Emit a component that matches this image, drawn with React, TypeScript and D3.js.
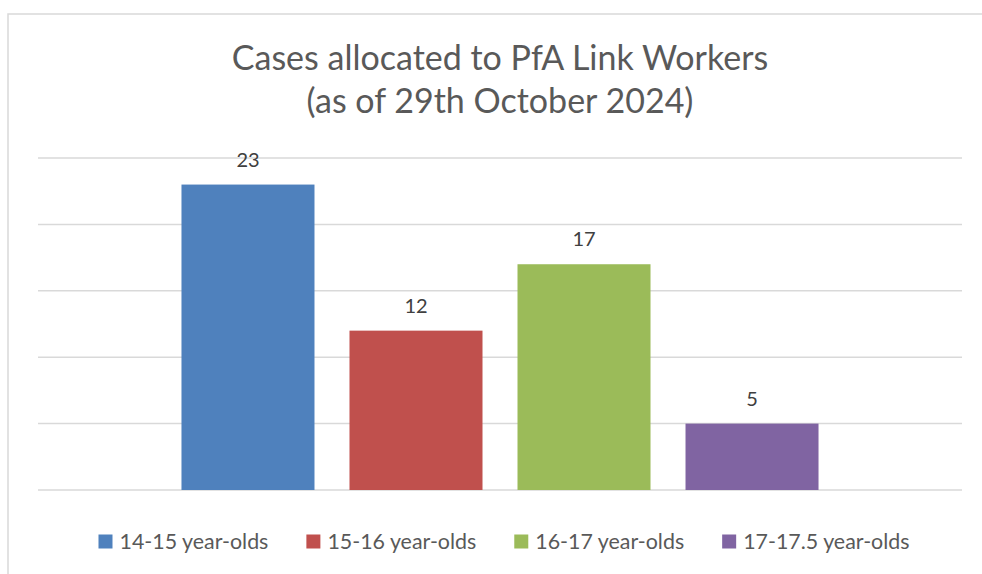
import React, { useEffect, useRef } from "react";
import * as d3 from "d3";

const seriesNames = ["14-15 year-olds", "15-16 year-olds", "16-17 year-olds", "17-17.5 year-olds"];
const seriesValues = [23, 12, 17, 5];
const seriesColors = ["#4f81bd", "#c0504d", "#9bbb59", "#8064a2"];
const yTicks = [0, 5, 10, 15, 20, 25];
const titleLines = ["Cases allocated to PfA Link Workers", "(as of 29th October 2024)"];

const FONT = "Lato, 'Open Sans', sans-serif";

export default function App() {
  const ref = useRef<SVGSVGElement | null>(null);
  useEffect(() => {
    const svg = d3.select(ref.current);
    svg.selectAll("*").remove();
    const W = 982, H = 574;
    // chart border
    svg.append("rect").attr("x", 8).attr("y", 14).attr("width", W).attr("height", H)
      .attr("fill", "#fff").attr("stroke", "#d9d9d9").attr("stroke-width", 1.5);

    // title
    svg.append("text").attr("x", 500).attr("y", 70).attr("text-anchor", "middle")
      .attr("font-family", FONT).attr("font-size", 34).attr("fill", "#595959").text(titleLines[0]);
    svg.append("text").attr("x", 500).attr("y", 113).attr("text-anchor", "middle")
      .attr("font-family", FONT).attr("font-size", 34).attr("fill", "#595959").text(titleLines[1]);

    const y = d3.scaleLinear().domain([0, 25]).range([490, 158]);
    const x = d3.scaleBand<string>().domain(seriesNames).range([38, 962])
      .paddingInner(35 / 168).paddingOuter(0.854);

    svg.append("g").selectAll("line").data(yTicks).join("line")
      .attr("x1", 38).attr("x2", 962)
      .attr("y1", d => y(d)).attr("y2", d => y(d))
      .attr("stroke", "#d9d9d9").attr("stroke-width", 1.5);

    svg.append("g").selectAll("rect").data(seriesNames).join("rect")
      .attr("x", d => x(d)!).attr("width", x.bandwidth())
      .attr("y", (d, i) => y(seriesValues[i]))
      .attr("height", (d, i) => y(0) - y(seriesValues[i]))
      .attr("fill", (d, i) => seriesColors[i]);

    svg.append("g").selectAll("text").data(seriesNames).join("text")
      .attr("x", d => x(d)! + x.bandwidth() / 2)
      .attr("y", (d, i) => y(seriesValues[i]) - 18)
      .attr("text-anchor", "middle").attr("font-family", FONT).attr("font-size", 20)
      .attr("fill", "#404040").text((d, i) => String(seriesValues[i]));

    // legend
    const lg = svg.append("g");
    const items = lg.selectAll("g").data(seriesNames).join("g");
    items.append("rect").attr("width", 14).attr("height", 14).attr("y", -14.5)
      .attr("fill", (d, i) => seriesColors[i]);
    const texts = items.append("text").attr("x", 21).attr("font-family", FONT)
      .attr("font-size", 21.4).attr("fill", "#595959").text(d => d);
    const widths: number[] = [];
    texts.each(function () { widths.push((this as SVGTextElement).getComputedTextLength()); });
    const gap = 38;
    const total = widths.reduce((a, w) => a + 21 + w, 0) + gap * (widths.length - 1);
    let cx = 504 - total / 2;
    const xs: number[] = [];
    widths.forEach(w => { xs.push(cx); cx += 21 + w + gap; });
    items.attr("transform", (d, i) => `translate(${xs[i]},549)`);
  }, []);
  return (
    <svg ref={ref} width={982} height={574}
      style={{ position: "absolute", left: 0, top: 0, display: "block" }} />
  );
}
